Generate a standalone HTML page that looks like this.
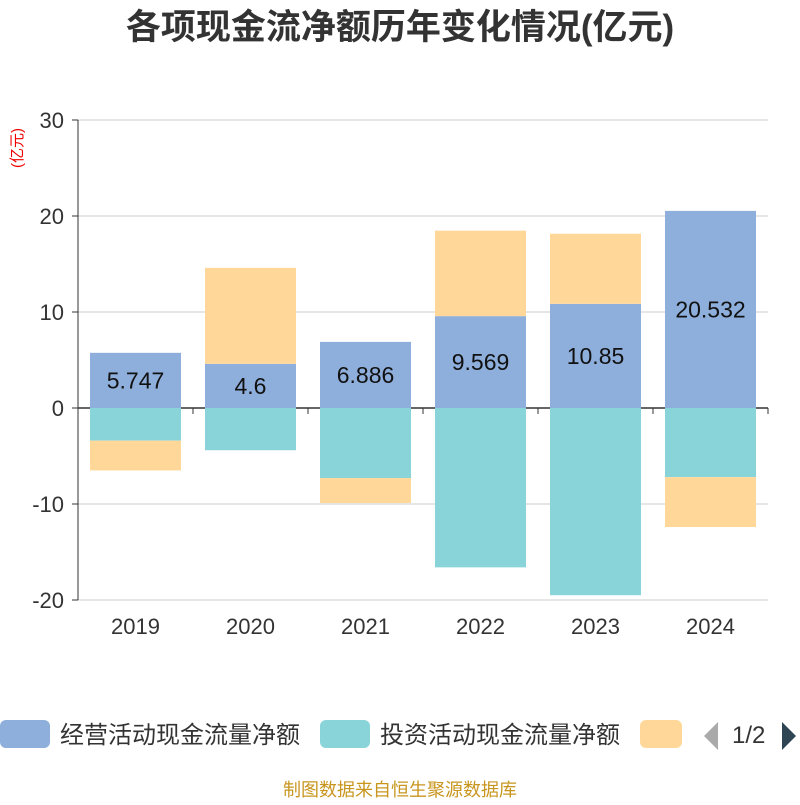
<!DOCTYPE html>
<html><head><meta charset="utf-8"><style>
body{margin:0;background:#fff;font-family:"Liberation Sans","Noto Sans CJK SC",sans-serif}
</style></head><body>
<svg id="c" width="800" height="800" xmlns="http://www.w3.org/2000/svg">
<text x="400" y="39" text-anchor="middle" font-size="35" font-weight="bold" fill="#333" font-family="Liberation Sans,Noto Sans CJK SC,sans-serif">各项现金流净额历年变化情况(亿元)</text>
<text transform="translate(22,148) rotate(-90)" text-anchor="middle" font-size="15" fill="#e00" font-family="Liberation Sans,Noto Sans CJK SC,sans-serif">(亿元)</text>
<g id="grid"></g><g id="bars"></g><g id="axes"></g>
<g font-family="Liberation Sans,Noto Sans CJK SC,sans-serif" font-size="24" fill="#333">
<rect x="0" y="720" width="50" height="28" rx="6" fill="#8eaedb"/>
<text x="60" y="743">经营活动现金流量净额</text>
<rect x="320" y="720" width="50" height="28" rx="6" fill="#88d4d8"/>
<text x="380" y="743">投资活动现金流量净额</text>
<rect x="640" y="720" width="42" height="28" rx="6" fill="#ffd899"/>
<polygon points="718,722 718,750 704,736" fill="#aaa"/>
<text x="732" y="743">1/2</text>
<polygon points="782,722 782,750 796,736" fill="#2f4554"/>
</g>
<text x="400" y="796" text-anchor="middle" font-size="18" fill="#c8961e" font-family="Liberation Sans,Noto Sans CJK SC,sans-serif">制图数据来自恒生聚源数据库</text>
</svg>
<script>
const categories=["2019","2020","2021","2022","2023","2024"];
const operating=[5.747,4.6,6.886,9.569,10.85,20.532];
const investing=[-3.4,-4.4,-7.3,-16.6,-19.5,-7.2];
const financing=[-3.1,10.0,-2.6,8.9,7.3,-5.2];
const yTicks=[-20,-10,0,10,20,30];
const NS="http://www.w3.org/2000/svg";
const x0=78,x1=768,band=(x1-x0)/categories.length;
const y=v=>408-v*9.6;
function mk(tag,attrs,parent){const e=document.createElementNS(NS,tag);for(const k in attrs)e.setAttribute(k,attrs[k]);parent.appendChild(e);return e;}
const grid=document.getElementById('grid'),bars=document.getElementById('bars'),axes=document.getElementById('axes');
yTicks.forEach(t=>{
 const l=mk('line',{x1:x0,x2:x1,y1:y(t),y2:y(t),stroke:t===0?'#333':'#ccc','stroke-width':t===0?1.5:1},grid);
 
 
 const tx=mk('text',{x:64,y:y(t)+8,'text-anchor':'end','font-size':22,fill:'#333'},axes);
 tx.textContent=t;
 
 
 mk('line',{x1:x0-6,x2:x0,y1:y(t),y2:y(t),stroke:'#333'},axes);
});
mk('line',{x1:x0,x2:x0,y1:y(30),y2:y(-20),stroke:'#333'},axes);
categories.forEach((c,i)=>{
 const bx=x0+i*band+12,bw=band-24;
 mk('line',{x1:x0+i*band,x2:x0+i*band,y1:408,y2:414,stroke:'#333'},axes);
 const segs=[[operating[i],'#8eaedb','operating'],[investing[i],'#88d4d8','investing'],[financing[i],'#ffd899','financing']];
 let pos=0,neg=0;
 segs.forEach(([v,col,nm])=>{
  let a,b;
  if(v>=0){a=pos;b=pos+v;pos=b;}else{a=neg;b=neg+v;neg=b;}
  const r=mk('rect',{x:bx,width:bw,y:Math.min(y(a),y(b)),height:Math.abs(y(a)-y(b)),fill:col},bars);
  
  
 });
 const lb=mk('text',{x:bx+bw/2,y:y(operating[i]/2)+8,'text-anchor':'middle','font-size':23,fill:'#111'},bars);
 lb.textContent=operating[i];
 
 
 const xl=mk('text',{x:bx+bw/2,y:634,'text-anchor':'middle','font-size':22,fill:'#333'},axes);
 xl.textContent=c;
 
 
});
mk('line',{x1:x1,x2:x1,y1:408,y2:414,stroke:'#333'},axes);
</script>
</body></html>
